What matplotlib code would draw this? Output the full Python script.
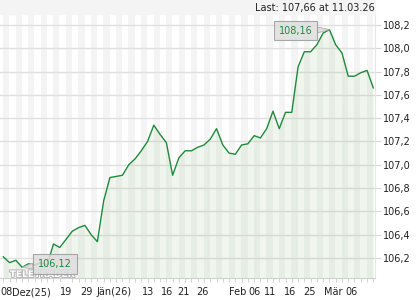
import matplotlib
matplotlib.use("Agg")
import matplotlib.pyplot as plt
import matplotlib.patheffects as pe
import numpy as np

# Kursverlauf (Handelstage 08.12.25 - 11.03.26)
kurs = [106.21, 106.16, 106.18, 106.12, 106.15, 106.14, 106.16, 106.14,
        106.32, 106.29, 106.36, 106.43, 106.46, 106.48, 106.40, 106.34,
        106.69, 106.89, 106.90, 106.91, 107.00, 107.05, 107.12, 107.20,
        107.34, 107.26, 107.19, 106.91, 107.06, 107.12, 107.12, 107.15,
        107.17, 107.22, 107.31, 107.17, 107.10, 107.09, 107.17, 107.18,
        107.25, 107.23, 107.31, 107.46, 107.31, 107.45, 107.45, 107.84,
        107.97, 107.97, 108.03, 108.13, 108.16, 108.03, 107.96, 107.76,
        107.76, 107.79, 107.81, 107.66]

x_labels = ["08", "Dez(25)", "19", "29", "Jän(26)", "13", "16", "21", "26",
            "Feb", "06", "11", "16", "25", "Mär", "06"]
x_label_pos = [0.45, 4.5, 10.0, 13.2, 17.7, 23.1, 26.1, 28.8, 31.7,
               37.3, 40.1, 42.6, 45.7, 48.9, 52.6, 55.6]
y_ticks = [106.2, 106.4, 106.6, 106.8, 107.0, 107.2, 107.4, 107.6, 107.8, 108.0, 108.2]

last_text = "Last: 107,66 at 11.03.26"

x = np.arange(len(kurs))
y = np.array(kurs)
ymin, ymax = 106.028, 108.294

fig = plt.figure(figsize=(4.2, 3.0), dpi=100)
fig.patches.append(plt.Rectangle((0, 0.9533), 0.893, 0.0467, transform=fig.transFigure,
                                 color="#f4f4f4", zorder=0))
ax = fig.add_axes([0, 0.0733, 0.893, 0.88])
ax.set_xlim(-0.53, 59.28)
ax.set_ylim(ymin, ymax)

# Streifen pro Tag
for k in range(0, len(kurs) + 1, 2):
    ax.axvspan(k - 0.05, k + 0.95, color="#f4f4f4", lw=0, zorder=0)

ax.set_yticks(y_ticks)
ax.yaxis.grid(True, color="#e0e0e0", lw=1.0, zorder=1)
ax.set_axisbelow(True)

ax.fill_between(x, y, ymin, color=(0.55, 0.75, 0.5), alpha=0.13, lw=0, zorder=2)
ax.plot(x, y, color="#1f8a3b", lw=1.0, zorder=3)

# Spines / Achsen
for s in ["top", "left"]:
    ax.spines[s].set_visible(False)
ax.spines["bottom"].set_color("#d0d0d0")
ax.spines["right"].set_color("#e6e6e6")

ax.yaxis.tick_right()
ax.set_yticklabels([("%.1f" % v).replace(".", ",") for v in y_ticks])
ax.tick_params(axis="y", length=4, color="#d8d8d8", pad=2, labelsize=7, labelcolor="#222222")

ax.set_xticks(x_label_pos)
ax.set_xticklabels(x_labels)
ax.set_xticks(x, minor=True)
ax.tick_params(axis="x", which="major", length=0, pad=6.5, labelsize=7, labelcolor="#222222")
ax.tick_params(axis="x", which="minor", length=3, color="#cccccc")

# Watermark
ax.text(6.2, 106.058, "TELETRADER", fontsize=6.5, fontweight="bold", color="white",
        ha="center", va="center", zorder=4,
        path_effects=[pe.withStroke(linewidth=1.5, foreground="#b8b8b8")])

# Hoch / Tief
i_max = int(np.argmax(y))
i_min = int(np.argmin(y))
box = dict(boxstyle="square,pad=0.5", fc="#dedede", ec="#9a9a9a", lw=0.8, alpha=0.85)
arrow = dict(arrowstyle="wedge,tail_width=0.6,shrink_factor=0.5", fc="#dedede", ec="#b0b0b0", lw=0.6,
             shrinkA=0, shrinkB=0)
ax.annotate(("%.2f" % y[i_max]).replace(".", ","), xy=(i_max, y[i_max]), xytext=(46.6, 108.152),
            ha="center", va="center", fontsize=7, color="#1f8a3b", bbox=box, arrowprops=arrow, zorder=5)
ax.annotate(("%.2f" % y[i_min]).replace(".", ","), xy=(i_min, y[i_min]), xytext=(8.25, 106.15),
            ha="center", va="center", fontsize=7, color="#1f8a3b", bbox=box, arrowprops=arrow, zorder=5)

fig.text(0.893, 0.973, last_text, ha="right", va="center", fontsize=7, color="#222222")

plt.savefig("out.png", dpi=100)
